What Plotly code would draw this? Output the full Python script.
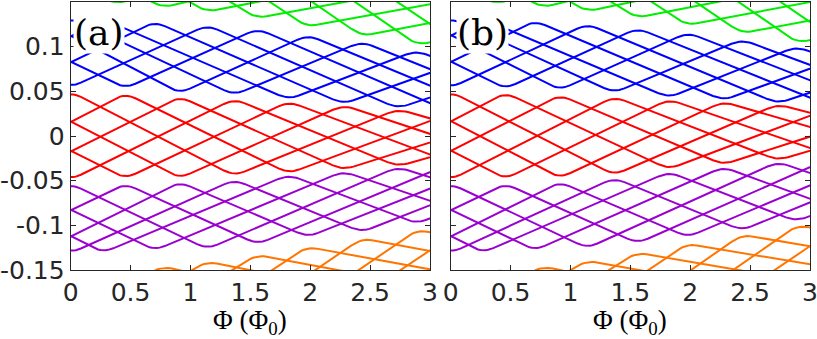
import numpy as np
import plotly.graph_objects as go

# ---------------- data: turning points (peaks / valleys) -------------
# abscissae of band-edge turning points (Phi in units of Phi_0); mirrored values for Phi<0
PHI_EDGE = [-1.365, -0.91, -0.455, 0.0, 0.455, 0.91, 1.365, 1.82, 2.275, 2.73, 3.185, 3.64, 4.095, 4.55, 5.005]
PHI_MID_B = [-1.14, -0.70, -0.27, 0.0, 0.27, 0.70, 1.14, 1.56, 1.98, 2.43, 2.885, 3.34, 3.80, 4.26, 4.72]
PHI_MID_O = [-1.135, -0.77, -0.38, 0.0, 0.38, 0.77, 1.135, 1.55, 1.97, 2.43, 2.89, 3.35, 3.81, 4.27, 4.73]

# panel (a)
GREEN_TOP_A = [0.210, 0.2165, 0.221, 0.224, 0.221, 0.2165, 0.210, 0.201, 0.191, 0.181, 0.172, 0.163, 0.154, 0.145, 0.136]
GREEN_BOT_A = [0.139, 0.144, 0.148, 0.149, 0.148, 0.144, 0.139, 0.132, 0.1224, 0.112, 0.102, 0.093, 0.084, 0.075, 0.066]
BLUE_TOP_A = [0.124, 0.128, 0.131, 0.132, 0.131, 0.128, 0.124, 0.120, 0.113, 0.1056, 0.0955, 0.087, 0.079, 0.071, 0.063]
BLUE_BOT_A = [0.046, 0.0478, 0.0534, 0.0545, 0.0534, 0.0478, 0.046, 0.041, 0.036, 0.031, 0.026, 0.021, 0.016, 0.011, 0.006]
RED_TOP_A = [0.0415, 0.044, 0.0478, 0.0496, 0.0478, 0.044, 0.0415, 0.0385, 0.0345, 0.030, 0.026, 0.022, 0.018, 0.014, 0.010]
RED_BOT_A = [-0.0445, -0.0472, -0.0476, -0.049, -0.0476, -0.0472, -0.0445, -0.0418, -0.038, -0.034, -0.030, -0.026, -0.022, -0.018, -0.014]
PURPLE_TOP_A = [-0.049, -0.0515, -0.0534, -0.0534, -0.0534, -0.0515, -0.049, -0.0433, -0.0396, -0.0347, -0.030, -0.025, -0.020, -0.015, -0.010]
PURPLE_BOT_A = [-0.1265, -0.128, -0.1305, -0.131, -0.1305, -0.128, -0.1265, -0.121, -0.113, -0.1075, -0.098, -0.089, -0.080, -0.071, -0.062]
ORANGE_TOP_A = [-0.1405, -0.146, -0.149, -0.150, -0.149, -0.146, -0.1405, -0.133, -0.124, -0.1146, -0.105, -0.096, -0.087, -0.078, -0.069]
ORANGE_BOT_A = [-0.212, -0.2185, -0.223, -0.226, -0.223, -0.2185, -0.212, -0.2035, -0.193, -0.183, -0.174, -0.165, -0.156, -0.147, -0.138]

# panel (b)
GREEN_TOP_B = [0.212, 0.2175, 0.222, 0.225, 0.222, 0.2175, 0.212, 0.204, 0.194, 0.184, 0.175, 0.166, 0.157, 0.148, 0.139]
GREEN_BOT_B = [0.1395, 0.144, 0.148, 0.149, 0.148, 0.144, 0.1395, 0.1325, 0.124, 0.115, 0.1045, 0.095, 0.086, 0.077, 0.068]
BLUE_TOP_B = [0.1254, 0.129, 0.131, 0.132, 0.131, 0.129, 0.1254, 0.1206, 0.1157, 0.108, 0.100, 0.092, 0.084, 0.076, 0.068]
BLUE_BOT_B = [0.0485, 0.0515, 0.053, 0.054, 0.053, 0.0515, 0.0485, 0.043, 0.040, 0.0366, 0.033, 0.029, 0.025, 0.021, 0.017]
RED_TOP_B = [0.044, 0.0459, 0.0485, 0.0496, 0.0485, 0.0459, 0.044, 0.041, 0.0385, 0.0355, 0.032, 0.029, 0.026, 0.023, 0.020]
RED_BOT_B = [-0.0435, -0.047, -0.048, -0.049, -0.048, -0.047, -0.0435, -0.037, -0.032, -0.027, -0.022, -0.017, -0.012, -0.007, -0.002]
PURPLE_TOP_B = [-0.047, -0.0515, -0.0534, -0.0534, -0.0534, -0.0515, -0.047, -0.0403, -0.0347, -0.029, -0.024, -0.019, -0.014, -0.009, -0.004]
PURPLE_BOT_B = [-0.1255, -0.128, -0.1305, -0.131, -0.1305, -0.128, -0.1255, -0.120, -0.113, -0.1056, -0.0955, -0.087, -0.078, -0.069, -0.060]
ORANGE_TOP_B = [-0.1395, -0.146, -0.149, -0.150, -0.149, -0.146, -0.1395, -0.1305, -0.1206, -0.1105, -0.100, -0.091, -0.082, -0.073, -0.064]
ORANGE_BOT_B = [-0.210, -0.217, -0.222, -0.225, -0.222, -0.217, -0.210, -0.200, -0.189, -0.178, -0.168, -0.158, -0.148, -0.138, -0.128]

X_TICKS = [0, 0.5, 1, 1.5, 2, 2.5, 3]
X_TICK_TEXT = ["0", "0.5", "1", "1.5", "2", "2.5", "3"]
Y_TICKS = [-0.15, -0.1, -0.05, 0, 0.05, 0.1]
Y_TICK_TEXT = ["-0.15", "-0.1", "-0.05", "0", "0.05", "0.1"]

COLORS = {"green": "#00ee00", "blue": "#0000ff", "red": "#ff0000",
          "purple": "#9a00d0", "orange": "#ff7500"}

STEP = 3  # each level runs from a band-edge point to the third next one on the other edge


def zigzag(ax, ay, bx, by, start):
    xs, ys = [], []
    i, use_a = start, True
    while i < len(ax):
        if use_a:
            xs.append(ax[i]); ys.append(ay[i])
        else:
            xs.append(bx[i]); ys.append(by[i])
        use_a = not use_a
        i += STEP
    return xs, ys


def rounded(xs, ys, d=0.085, n=9):
    ox, oy = [xs[0]], [ys[0]]
    for k in range(1, len(xs) - 1):
        px, py = xs[k - 1], ys[k - 1]
        vx, vy = xs[k], ys[k]
        nx, ny = xs[k + 1], ys[k + 1]
        t1 = d / abs(vx - px)
        t2 = d / abs(nx - vx)
        sx, sy = vx + (px - vx) * t1, vy + (py - vy) * t1
        ex, ey = vx + (nx - vx) * t2, vy + (ny - vy) * t2
        for t in np.linspace(0, 1, n):
            ox.append((1 - t) ** 2 * sx + 2 * t * (1 - t) * vx + t ** 2 * ex)
            oy.append((1 - t) ** 2 * sy + 2 * t * (1 - t) * vy + t ** 2 * ey)
    ox.append(xs[-1]); oy.append(ys[-1])
    return ox, oy


def band_trace(top_x, top_y, bot_x, bot_y, color, xa, ya):
    X, Y = [], []
    for s in range(STEP):
        for (ax, ay, bx, by) in ((bot_x, bot_y, top_x, top_y), (top_x, top_y, bot_x, bot_y)):
            xs, ys = zigzag(ax, ay, bx, by, s)
            rx, ry = rounded(xs, ys)
            X += [float(v) for v in rx] + [None]
            Y += [float(v) for v in ry] + [None]
    return go.Scatter(x=X, y=Y, mode="lines", line=dict(color=color, width=2),
                      xaxis=xa, yaxis=ya, showlegend=False, hoverinfo="skip")


panels = {
    ("x", "y"): [
        (PHI_EDGE, ORANGE_BOT_A, PHI_MID_O, ORANGE_TOP_A, "orange"),
        (PHI_MID_B, PURPLE_BOT_A, PHI_EDGE, PURPLE_TOP_A, "purple"),
        (PHI_EDGE, RED_BOT_A, PHI_EDGE, RED_TOP_A, "red"),
        (PHI_EDGE, BLUE_BOT_A, PHI_MID_B, BLUE_TOP_A, "blue"),
        (PHI_MID_O, GREEN_BOT_A, PHI_EDGE, GREEN_TOP_A, "green"),
    ],
    ("x2", "y2"): [
        (PHI_EDGE, ORANGE_BOT_B, PHI_MID_O, ORANGE_TOP_B, "orange"),
        (PHI_MID_B, PURPLE_BOT_B, PHI_EDGE, PURPLE_TOP_B, "purple"),
        (PHI_EDGE, RED_BOT_B, PHI_EDGE, RED_TOP_B, "red"),
        (PHI_EDGE, BLUE_BOT_B, PHI_MID_B, BLUE_TOP_B, "blue"),
        (PHI_MID_O, GREEN_BOT_B, PHI_EDGE, GREEN_TOP_B, "green"),
    ],
}

fig = go.Figure()
for (xa, ya), bands in panels.items():
    for bx, by, tx, ty, cname in bands:
        fig.add_trace(band_trace(tx, ty, bx, by, COLORS[cname], xa, ya))

AX = "#262626"
tickfont = dict(family="DejaVu Sans", size=25, color=AX)
common_x = dict(range=[0, 3], tickvals=X_TICKS, ticktext=X_TICK_TEXT, ticks="inside",
                ticklen=5, tickcolor=AX, showline=True, linecolor=AX, linewidth=1,
                mirror="ticks", showgrid=False, zeroline=False, tickfont=tickfont,
                automargin=False, ticklabeloverflow="allow")
common_y = dict(range=[-0.15, 0.15], tickvals=Y_TICKS, ticktext=Y_TICK_TEXT, ticks="inside",
                ticklen=5, tickcolor=AX, showline=True, linecolor=AX, linewidth=1,
                mirror="ticks", showgrid=False, zeroline=False, tickfont=tickfont,
                automargin=False, ticklabeloverflow="allow")

XD_A = [70.7 / 817, 430 / 817]
XD_B = [450.7 / 817, 810 / 817]
YD = [(339 - 270) / 339, (339 - 2) / 339]

fig.update_layout(
    width=817, height=339, margin=dict(l=0, r=0, t=0, b=0, autoexpand=False),
    paper_bgcolor="white", plot_bgcolor="white",
    xaxis=dict(domain=XD_A, anchor="y", **common_x),
    yaxis=dict(domain=YD, anchor="x", **common_y),
    xaxis2=dict(domain=XD_B, anchor="y2", **common_x),
    yaxis2=dict(domain=YD, anchor="x2", showticklabels=False,
                **{k: v for k, v in common_y.items() if k != "tickfont"}),
)

label_font = dict(family="DejaVu Serif", size=36, color="black")
title_font = dict(family="Liberation Serif", size=27, color="black")
for lab, xc in (("(a)", 99), ("(b)", 482)):
    fig.add_annotation(text=lab, xref="paper", yref="paper", x=xc / 817, y=(339 - 32) / 339,
                       xanchor="center", yanchor="middle", showarrow=False, font=label_font,
                       bgcolor="white", borderpad=0)
for dom in (XD_A, XD_B):
    fig.add_annotation(text="Φ (Φ<sub>0</sub>)", xref="paper", yref="paper",
                       x=(dom[0] + dom[1]) / 2, y=(339 - 322) / 339, xanchor="center",
                       yanchor="middle", showarrow=False, font=title_font)

fig.write_html("out.html", config={"displayModeBar": False},
               post_script="document.body.style.margin='0';document.body.style.padding='0';")
